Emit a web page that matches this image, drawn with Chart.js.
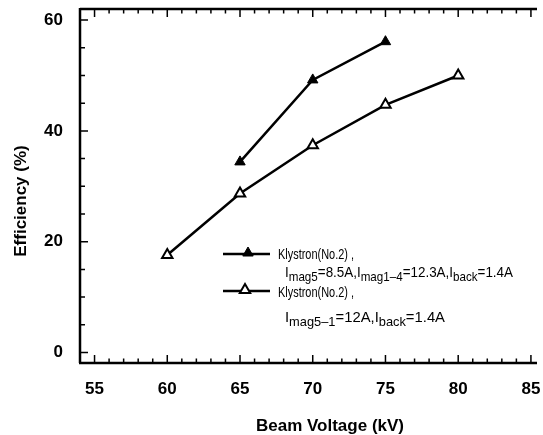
<!DOCTYPE html>
<html><head><meta charset="utf-8">
<script src="https://cdn.jsdelivr.net/npm/chart.js@4.4.1/dist/chart.umd.min.js"></script>
<style>html,body{margin:0;padding:0;background:#fff;overflow:hidden}</style>
</head><body>
<canvas id="c" width="543" height="435" style="display:block;width:543px;height:435px"></canvas>
<script>
// ---- data ----
const beamVoltageA = [65, 70, 75];
const efficiencyA = [34.4, 49.2, 56.1];
const beamVoltageB = [60, 65, 70, 75, 80];
const efficiencyB = [17.6, 28.7, 37.4, 44.7, 50.0];
const xTickValues = [55, 60, 65, 70, 75, 80, 85];
const yTickValues = [0, 20, 40, 60];
const xTitle = 'Beam Voltage (kV)';
const yTitle = 'Efficiency (%)';
const legendTitleA = 'Klystron(No.2) ,';
const legendRunsA = [['I','n'],['mag5','s'],['=8.5A,','n'],['I','n'],['mag1\u20134','s'],['=12.3A,','n'],['I','n'],['back','s'],['=1.4A','n']];
const legendTitleB = 'Klystron(No.2) ,';
const legendRunsB = [['I','n'],['mag5\u20131','s'],['=12A,','n'],['I','n'],['back','s'],['=1.4A','n']];

const FONT = '"Liberation Sans", Arial, sans-serif';

function drawRuns(ctx, runs, x, baseline, targetWidth) {
  const nf = '15px ' + FONT, sf = '13px ' + FONT;
  let total = 0;
  runs.forEach(r => { ctx.font = r[1] === 's' ? sf : nf; total += ctx.measureText(r[0]).width; });
  const s = targetWidth / total;
  ctx.save();
  ctx.translate(x, baseline);
  ctx.scale(s, 1);
  ctx.textBaseline = 'alphabetic';
  ctx.textAlign = 'left';
  ctx.fillStyle = '#000';
  let cx = 0;
  runs.forEach(r => {
    ctx.font = r[1] === 's' ? sf : nf;
    ctx.fillText(r[0], cx, r[1] === 's' ? 4 : 0);
    cx += ctx.measureText(r[0]).width;
  });
  ctx.restore();
}

const framePlugin = {
  id: 'frame',
  afterDraw(chart) {
    const ctx = chart.ctx, a = chart.chartArea;
    const xs = chart.scales.x, ys = chart.scales.y;
    ctx.save();
    ctx.strokeStyle = '#000';
    ctx.lineCap = 'butt';
    // frame
    ctx.lineWidth = 2.5;
    ctx.beginPath();
    ctx.moveTo(a.left, a.top); ctx.lineTo(a.right + 2, a.top);
    ctx.moveTo(a.left, a.top - 1); ctx.lineTo(a.left, a.bottom);
    ctx.moveTo(a.left - 1, a.bottom); ctx.lineTo(a.right + 2, a.bottom);
    ctx.stroke();
    // inward ticks
    ctx.lineWidth = 1.5;
    ctx.beginPath();
    for (let v = Math.ceil(xs.min); v <= xs.max; v += 1) {
      const px = xs.getPixelForValue(v);
      const len = v % 5 === 0 ? 8 : 4.5;
      ctx.moveTo(px, a.bottom); ctx.lineTo(px, a.bottom - len);
      ctx.moveTo(px, a.top); ctx.lineTo(px, a.top + len);
    }
    for (let v = Math.ceil(ys.min / 5) * 5; v <= ys.max; v += 5) {
      const py = ys.getPixelForValue(v);
      const len = v % 20 === 0 ? 8 : 5;
      ctx.moveTo(a.left, py); ctx.lineTo(a.left + len, py);
    }
    ctx.stroke();
    // axis titles
    ctx.fillStyle = '#000';
    ctx.font = 'bold 17px ' + FONT;
    ctx.textAlign = 'center';
    ctx.textBaseline = 'alphabetic';
    ctx.fillText(xTitle, 330, 431);
    ctx.save();
    ctx.translate(26, 201);
    ctx.rotate(-Math.PI / 2);
    ctx.fillText(yTitle, 0, 0);
    ctx.restore();
    // legend
    const ds = chart.data.datasets;
    const entries = [
      {y: 254, mx: 248, d: ds[0], title: legendTitleA, runs: legendRunsA, tb: 259, rb: 277, rw: 228},
      {y: 291, mx: 245, d: ds[1], title: legendTitleB, runs: legendRunsB, tb: 297, rb: 322, rw: 160}
    ];
    entries.forEach(e => {
      ctx.lineWidth = 2.5;
      ctx.strokeStyle = '#000';
      ctx.beginPath(); ctx.moveTo(223, e.y); ctx.lineTo(270, e.y); ctx.stroke();
      ctx.fillStyle = e.d.pointBackgroundColor;
      ctx.strokeStyle = '#000';
      ctx.lineWidth = e.d.pointBorderWidth;
      Chart.helpers.drawPoint(ctx, {pointStyle: 'triangle', radius: e.d.pointRadius, rotation: 0, borderWidth: e.d.pointBorderWidth}, e.mx, e.y - 1);
      drawRuns(ctx, [[e.title, 'n']], 278, e.tb, 76);
      drawRuns(ctx, e.runs, 285, e.rb, e.rw);
    });
    ctx.restore();
  }
};

new Chart(document.getElementById('c'), {
  type: 'line',
  data: {
    datasets: [
      {
        label: legendTitleA,
        data: beamVoltageA.map((x, i) => ({x, y: efficiencyA[i]})),
        borderColor: '#000', borderWidth: 2.5,
        pointStyle: 'triangle', pointRadius: 6,
        pointBackgroundColor: '#000', pointBorderColor: '#000', pointBorderWidth: 1,
        fill: false, tension: 0
      },
      {
        label: legendTitleB,
        data: beamVoltageB.map((x, i) => ({x, y: efficiencyB[i]})),
        borderColor: '#000', borderWidth: 2.5,
        pointStyle: 'triangle', pointRadius: 6,
        pointBackgroundColor: '#fff', pointBorderColor: '#000', pointBorderWidth: 2,
        fill: false, tension: 0
      }
    ]
  },
  options: {
    responsive: false,
    animation: false,
    layout: {padding: {top: 9, right: 0, left: 0, bottom: 0}},
    plugins: {legend: {display: false}, tooltip: {enabled: false}},
    scales: {
      x: {
        type: 'linear', min: 54, max: 85.28,
        afterBuildTicks: s => { s.ticks = xTickValues.map(v => ({value: v})); },
        afterFit: s => { s.height = 72; s.paddingLeft = 0; s.paddingRight = 0; },
        grid: {display: false},
        border: {display: false},
        ticks: {color: '#000', font: {family: FONT, size: 17, weight: 'bold'}, padding: 8, maxRotation: 0, autoSkip: false}
      },
      y: {
        type: 'linear', min: -1.9, max: 62,
        afterBuildTicks: s => { s.ticks = yTickValues.map(v => ({value: v})); },
        afterFit: s => { s.width = 80; s.paddingTop = 0; s.paddingBottom = 0; },
        grid: {display: false},
        border: {display: false},
        ticks: {color: '#000', font: {family: FONT, size: 17, weight: 'bold'}, padding: 9}
      }
    }
  },
  plugins: [framePlugin]
});
</script>
</body></html>
